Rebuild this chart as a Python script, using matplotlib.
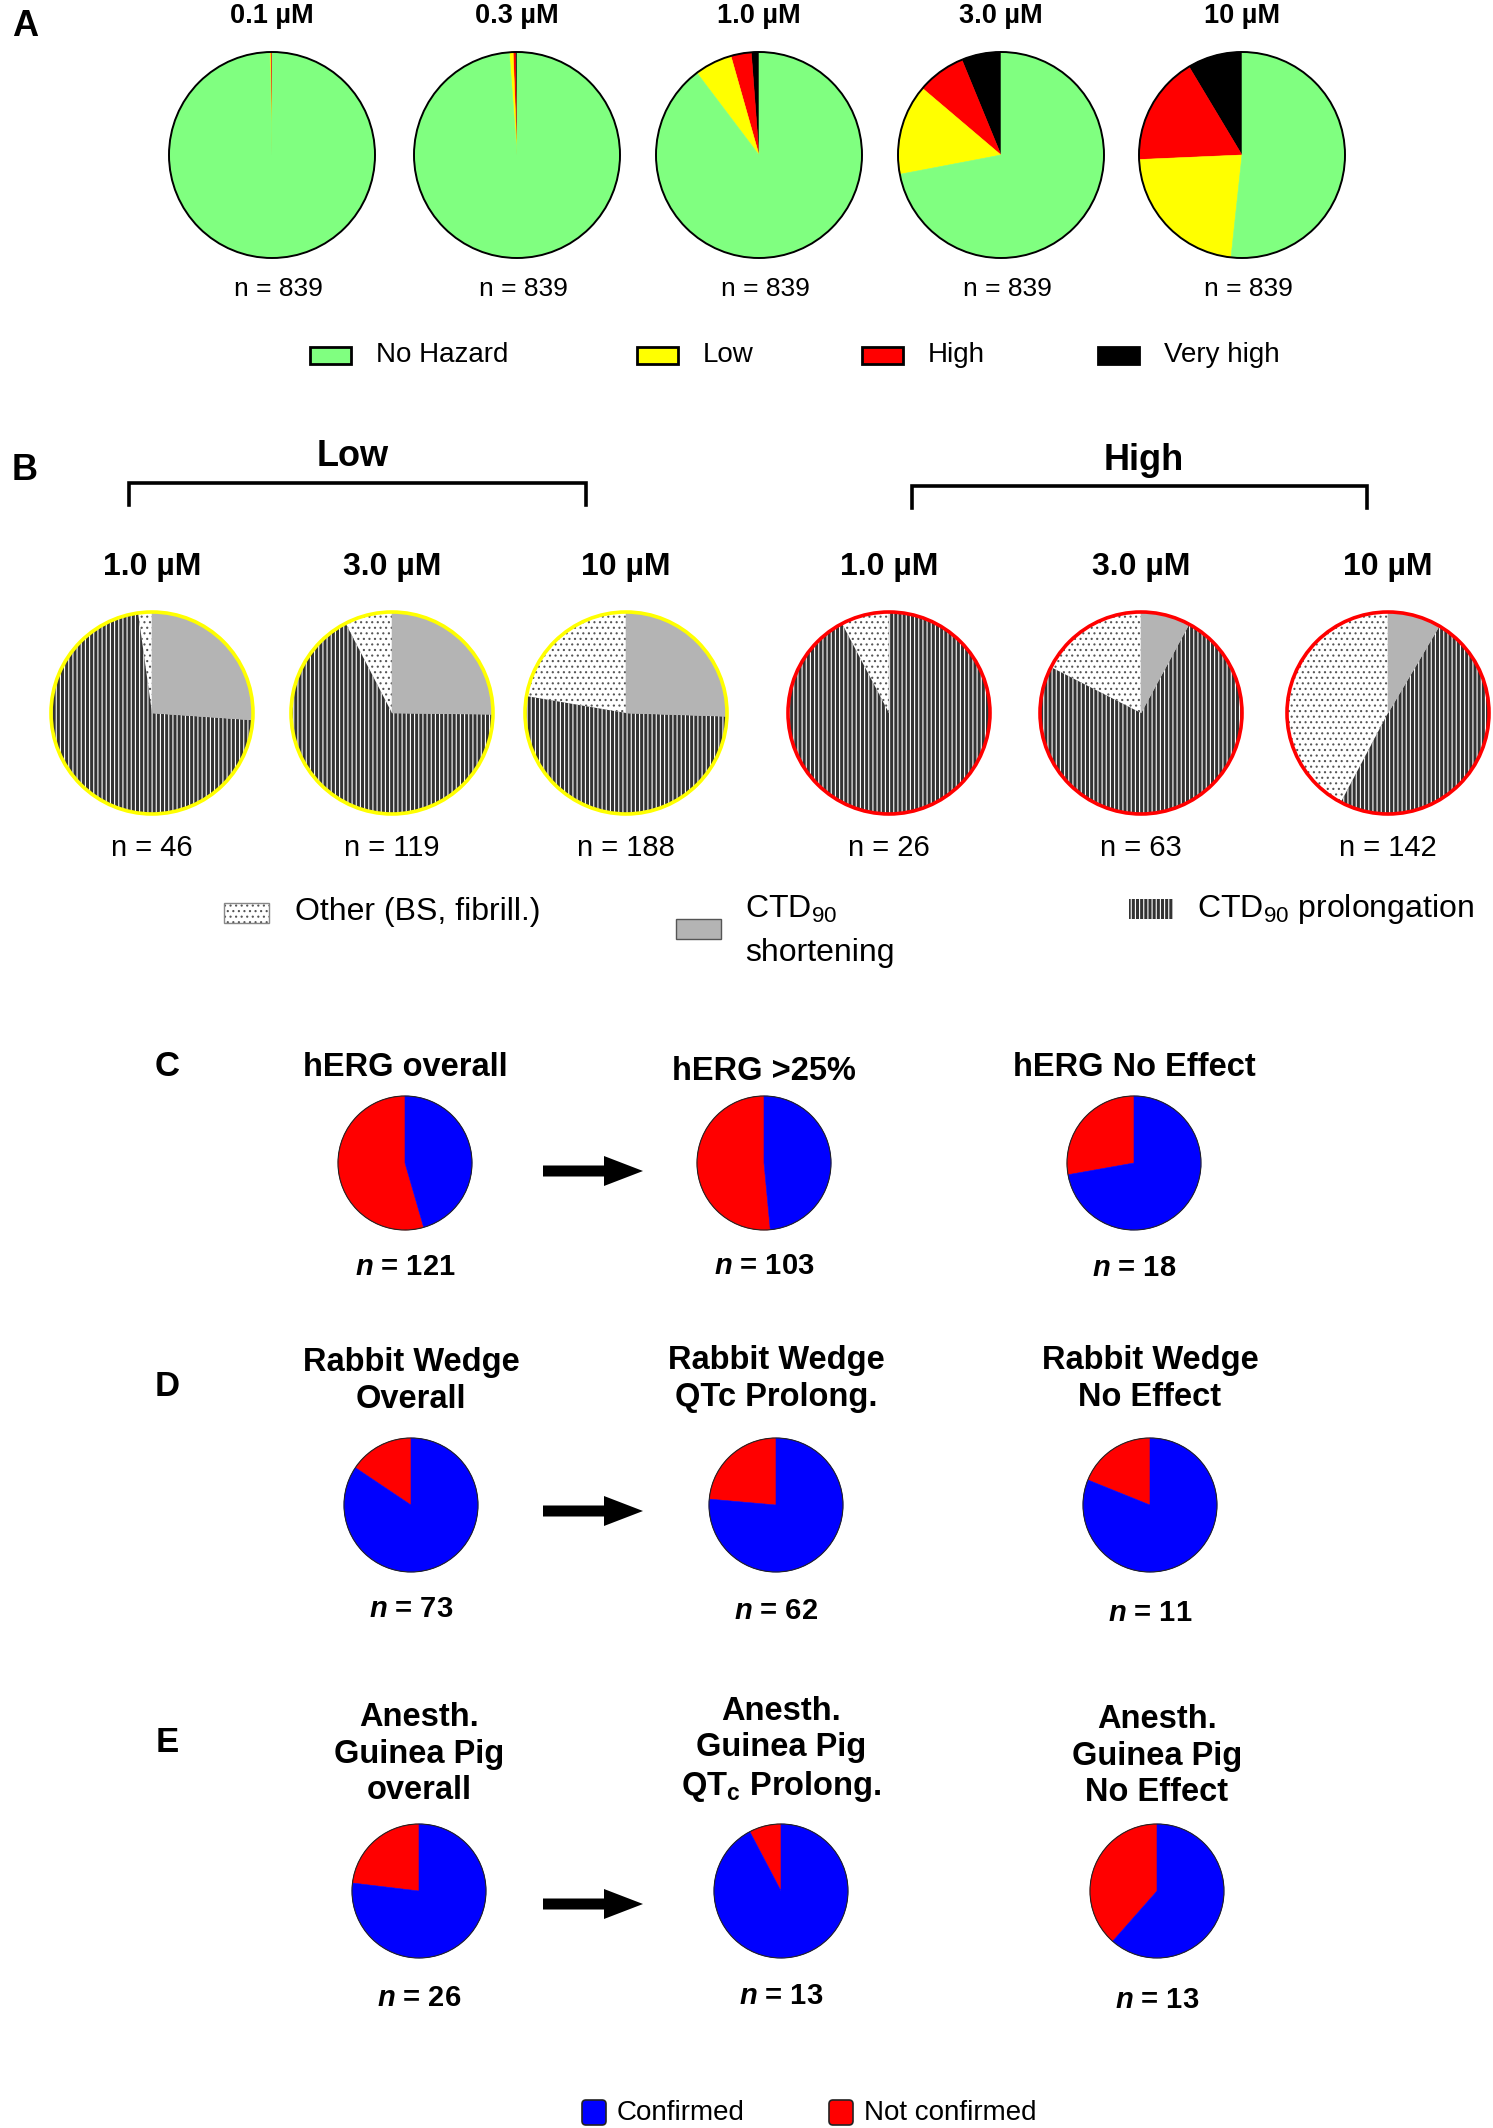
import matplotlib
matplotlib.use('Agg')
import matplotlib.pyplot as plt
from matplotlib.patches import Circle, Rectangle, FancyArrow, FancyBboxPatch

plt.rcParams['font.family'] = 'Liberation Sans'
plt.rcParams['mathtext.fontset'] = 'custom'
plt.rcParams['mathtext.rm'] = 'Liberation Sans'
plt.rcParams['mathtext.bf'] = 'Liberation Sans:bold'
plt.rcParams['mathtext.it'] = 'Liberation Sans:italic:bold'
plt.rcParams['hatch.linewidth'] = 0.8

# ---- data -------------------------------------------------------------
# panel A: hazard category (%) per concentration, n = 839 each
conc_a = ['0.1 µM', '0.3 µM', '1.0 µM', '3.0 µM', '10 µM']
n_a = [839, 839, 839, 839, 839]
very_high = [0.0, 0.24, 1.2, 6.2, 8.6]
high = [0.24, 0.36, 3.2, 7.6, 17.1]
low = [0.12, 0.6, 5.9, 14.2, 22.6]
no_hazard = [99.64, 98.8, 89.7, 72.0, 51.7]
labels_a = ['No Hazard', 'Low', 'High', 'Very high']

# panel B: CTD90 effect type (%) within Low / High hazard groups
conc_b = ['1.0 µM', '3.0 µM', '10 µM']
n_b_low = [46, 119, 188]
n_b_high = [26, 63, 142]
other_low = [2.2, 7.6, 22.3]
prolong_low = [71.7, 67.2, 52.1]
short_low = [26.1, 25.2, 25.5]
other_high = [7.7, 17.5, 42.3]
prolong_high = [92.3, 74.6, 49.3]
short_high = [0.0, 7.9, 8.5]

# panels C-E: not confirmed / confirmed (%)
titles_c = ['hERG overall', 'hERG >25%', 'hERG No Effect']
n_c = [121, 103, 18]
notconf_c = [54.5, 51.5, 27.8]
conf_c = [45.5, 48.5, 72.2]

titles_d = ['Rabbit Wedge\nOverall', 'Rabbit Wedge\nQTc Prolong.', 'Rabbit Wedge\nNo Effect']
n_d = [73, 62, 11]
notconf_d = [15.6, 23.6, 18.9]
conf_d = [84.4, 76.4, 81.1]

titles_e = ['Anesth.\nGuinea Pig\noverall', 'Anesth.\nGuinea Pig\nQT$_{\\mathbf{c}}$ Prolong.',
            'Anesth.\nGuinea Pig\nNo Effect']
n_e = [26, 13, 13]
notconf_e = [23.1, 7.7, 38.5]
conf_e = [76.9, 92.3, 61.5]

# ---- styles -----------------------------------------------------------
GREEN = '#80ff80'
YELLOW = '#ffff00'
RED = '#ff0000'
BLUE = '#0000ff'
DARK = '#333333'
GREY = '#b4b4b4'

W, H = 1493, 2128
PAD = 1.06

fig = plt.figure(figsize=(W / 100, H / 100), dpi=100)
ov = fig.add_axes([0, 0, 1, 1])
ov.set_xlim(0, W)
ov.set_ylim(H, 0)
ov.axis('off')


def draw_pie(cx, cy, r, vals, colors, hatches=None, hatch_colors=None, ring='black', ring_lw=1.0):
    s = r * PAD
    ax = fig.add_axes([(cx - s) / W, 1 - (cy + s) / H, 2 * s / W, 2 * s / H])
    wedges, _ = ax.pie(vals, colors=colors, startangle=90, counterclock=True,
                       wedgeprops=dict(linewidth=0))
    for i, w in enumerate(wedges):
        if hatches and hatches[i]:
            w.set_hatch(hatches[i])
            w.set_edgecolor(hatch_colors[i])
            w.set_linewidth(0)
        else:
            w.set_edgecolor(w.get_facecolor())
            w.set_linewidth(0.4)
    ax.add_patch(Circle((0, 0), 1, fill=False, ec=ring, lw=ring_lw))
    ax.set_xlim(-PAD, PAD)
    ax.set_ylim(-PAD, PAD)
    ax.set_aspect('equal')
    ax.axis('off')
    return ax


def txt(x, y, s, size, bold=False, ha='center', **kw):
    ov.text(x, y, s, ha=ha, va='center', fontsize=size,
            fontweight='bold' if bold else 'normal', **kw)


# ---- panel A ----------------------------------------------------------
txt(12, 26, 'A', 26, bold=True, ha='left')
xs_a = [272, 517, 759, 1001, 1242]
for i, x in enumerate(xs_a):
    txt(x, 16, conc_a[i], 19.5, bold=True)
    draw_pie(x, 155, 103, [very_high[i], high[i], low[i], no_hazard[i]],
             ['black', RED, YELLOW, GREEN], ring='black', ring_lw=1.4)
    txt(x + 6, 289, f'n = {n_a[i]}', 19)

leg_a_x = [310, 637, 862, 1098]
for x, lab, c in zip(leg_a_x, labels_a, [GREEN, YELLOW, RED, 'black']):
    ov.add_patch(Rectangle((x, 347), 41, 17, fc=c, ec='black', lw=2))
    txt(x + 66, 355, lab, 20, ha='left')

# ---- panel B ----------------------------------------------------------
txt(12, 471, 'B', 26, bold=True, ha='left')
txt(353, 457, 'Low', 26, bold=True)
txt(1144, 461, 'High', 26, bold=True)
ov.plot([129, 129, 586, 586], [505, 483, 483, 505], color='black', lw=2.6, solid_joinstyle='miter')
ov.plot([912, 912, 1367, 1367], [508, 486, 486, 508], color='black', lw=2.6, solid_joinstyle='miter')

b_hatch = ['...', '||||', None]
b_hcol = ['#555555', 'white', None]
b_cols = ['white', DARK, GREY]
xs_low = [152, 392, 626]
xs_high = [889, 1141, 1388]
for i in range(3):
    for xs, oth, pro, sho, nn, ring in [(xs_low, other_low, prolong_low, short_low, n_b_low, YELLOW),
                                         (xs_high, other_high, prolong_high, short_high, n_b_high, RED)]:
        x = xs[i]
        txt(x, 567, conc_b[i], 23, bold=True)
        draw_pie(x, 713, 101, [oth[i], pro[i], sho[i]], b_cols, b_hatch, b_hcol,
                 ring=ring, ring_lw=2.6)
        txt(x, 848, f'n = {nn[i]}', 21)

ov.add_patch(Rectangle((224, 903), 45, 20, fc='white', ec='#555555', hatch='...', lw=0))
ov.add_patch(Rectangle((224, 903), 45, 20, fill=False, ec='#888888', lw=1))
txt(295, 912, 'Other (BS, fibrill.)', 23, ha='left')
ov.add_patch(Rectangle((676, 919), 45, 20, fc=GREY, ec='#555555', lw=1))
txt(745, 909, 'CTD$_{90}$', 23, ha='left')
txt(745, 953, 'shortening', 23, ha='left')
ov.add_patch(Rectangle((1129, 899), 44, 20, fc=DARK, ec='white', hatch='||||', lw=0))
txt(1197, 909, 'CTD$_{90}$ prolongation', 23, ha='left')

# ---- panels C-E -------------------------------------------------------
rows = [
    dict(letter='C', ly=1067, titles=titles_c, n=n_c, nc=notconf_c, c=conf_c,
         tx=[405, 764, 1134], ty=[1067, 1071, 1067], py=1163, ny=[1267, 1266, 1268], ay=1171),
    dict(letter='D', ly=1387, titles=titles_d, n=n_d, nc=notconf_d, c=conf_d,
         tx=[411, 776, 1150], ty=[1381, 1379, 1379], py=1505, ny=[1609, 1611, 1613], ay=1511),
    dict(letter='E', ly=1742, titles=titles_e, n=n_e, nc=notconf_e, c=conf_e,
         tx=[419, 781, 1157], ty=[1754, 1750, 1756], py=1891, ny=[1998, 1996, 2000], ay=1904),
]
for row in rows:
    txt(167, row['ly'], row['letter'], 25, bold=True)
    for i in range(3):
        x = row['tx'][i]
        ov.text(x, row['ty'][i], row['titles'][i], ha='center', va='center', ma='center',
                fontsize=23.5, fontweight='bold', linespacing=1.22)
        draw_pie(x, row['py'], 67, [row['nc'][i], row['c'][i]], [RED, BLUE],
                 ring='#222222', ring_lw=0.8)
        txt(x, row['ny'][i], f"$n$ = {row['n'][i]}", 21, bold=True)
    ov.add_patch(FancyArrow(543, row['ay'], 100, 0, width=11, head_width=30, head_length=39,
                            length_includes_head=True, color='black', lw=0))

# bottom legend
for x, c, lab in [(582, BLUE, 'Confirmed'), (829, RED, 'Not confirmed')]:
    ov.add_patch(FancyBboxPatch((x, 2100), 24, 25, boxstyle='round,pad=0,rounding_size=4',
                                fc=c, ec='#222222', lw=1.2))
    txt(x + 35, 2113, lab, 20, ha='left')

fig.savefig('out.png', dpi=100)
